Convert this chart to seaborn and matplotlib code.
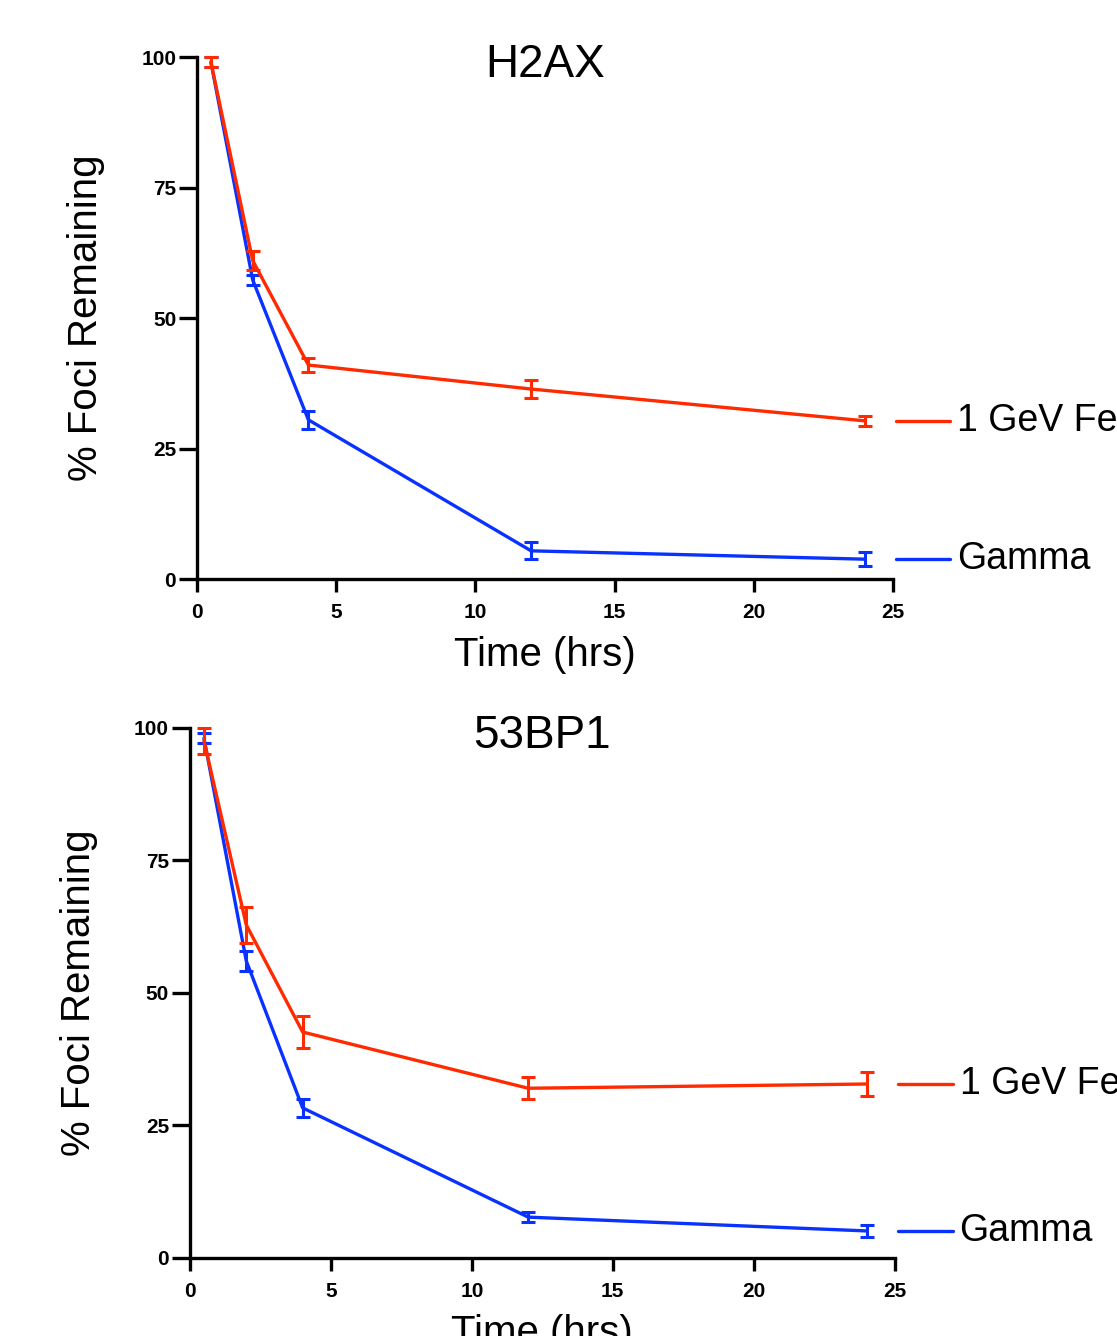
import pandas as pd
import matplotlib.pyplot as plt
import seaborn as sns

# time points (hrs)
time = [0.5, 2, 4, 12, 24]

# H2AX panel
h2ax_fe = [99.0, 61.0, 41.0, 36.4, 30.3]
h2ax_fe_err = [1.0, 1.8, 1.4, 1.8, 1.0]
h2ax_gamma = [99.0, 57.3, 30.5, 5.4, 3.8]
h2ax_gamma_err = [1.0, 1.0, 1.7, 1.6, 1.3]

# 53BP1 panel
bp1_fe = [97.5, 62.8, 42.6, 32.0, 32.8]
bp1_fe_err = [2.5, 3.4, 3.0, 2.1, 2.2]
bp1_gamma = [98.0, 56.0, 28.3, 7.7, 5.1]
bp1_gamma_err = [1.0, 1.9, 1.7, 1.0, 1.1]

series_names = ["Gamma", "1 GeV Fe"]
colors = {"Gamma": "#0a32ff", "1 GeV Fe": "#ff2a00"}
x_ticks = [0, 5, 10, 15, 20, 25]
y_ticks = [0, 25, 50, 75, 100]

sns.set_style("ticks")
plt.rcParams["font.family"] = ["Liberation Sans", "DejaVu Sans"]
plt.rcParams["text.color"] = "black"
plt.rcParams["axes.labelcolor"] = "black"
plt.rcParams["xtick.color"] = "black"
plt.rcParams["ytick.color"] = "black"
plt.rcParams["axes.edgecolor"] = "black"


def draw_panel(ax, title, gamma, gamma_err, fe, fe_err):
    """Draw one foci-decay panel"""

    data = {
        "Gamma": (gamma, gamma_err),
        "1 GeV Fe": (fe, fe_err),
    }

    for name in series_names:
        values, err = data[name]
        df = pd.DataFrame({"time": time, "value": values})
        sns.lineplot(
            data=df,
            x="time",
            y="value",
            color=colors[name],
            linewidth=2.4,
            ax=ax,
            clip_on=False
        )
        ax.errorbar(
            time,
            values,
            yerr=err,
            fmt="none",
            ecolor=colors[name],
            elinewidth=2.2,
            capsize=5,
            capthick=2.2,
            clip_on=False
        )

        # inline legend at the end of each curve
        ax.plot([25.1, 27.05], [values[-1], values[-1]],
                color=colors[name], linewidth=2.4, clip_on=False)
        ax.text(27.3, values[-1], name, fontsize=27,
                va="center", ha="left", clip_on=False)

    ax.set_xlim(0, 25)
    ax.set_ylim(0, 100)
    ax.set_xticks(x_ticks)
    ax.set_yticks(y_ticks)
    ax.tick_params(axis="both", width=2.4, labelsize=15)
    ax.tick_params(axis="y", length=13, pad=2)
    ax.tick_params(axis="x", length=9, pad=8)
    for label in ax.get_xticklabels() + ax.get_yticklabels():
        label.set_fontweight("bold")

    ax.set_xlabel("Time (hrs)", fontsize=29, labelpad=10)
    ax.set_ylabel("% Foci Remaining", fontsize=29, labelpad=26)

    ax.text(0.5, 0.985, title, transform=ax.transAxes,
            fontsize=33, ha="center", va="center")

    sns.despine(ax=ax)
    for side in ["left", "bottom"]:
        ax.spines[side].set_linewidth(2.4)


fig = plt.figure(figsize=(11.17, 13.36), dpi=100)

ax_top = fig.add_axes([0.1764, 0.5666, 0.623, 0.3907])
ax_bottom = fig.add_axes([0.170, 0.0584, 0.631, 0.397])

draw_panel(ax_top, "H2AX", h2ax_gamma, h2ax_gamma_err, h2ax_fe, h2ax_fe_err)
draw_panel(ax_bottom, "53BP1", bp1_gamma, bp1_gamma_err, bp1_fe, bp1_fe_err)

fig.savefig("out.png", dpi=100)
